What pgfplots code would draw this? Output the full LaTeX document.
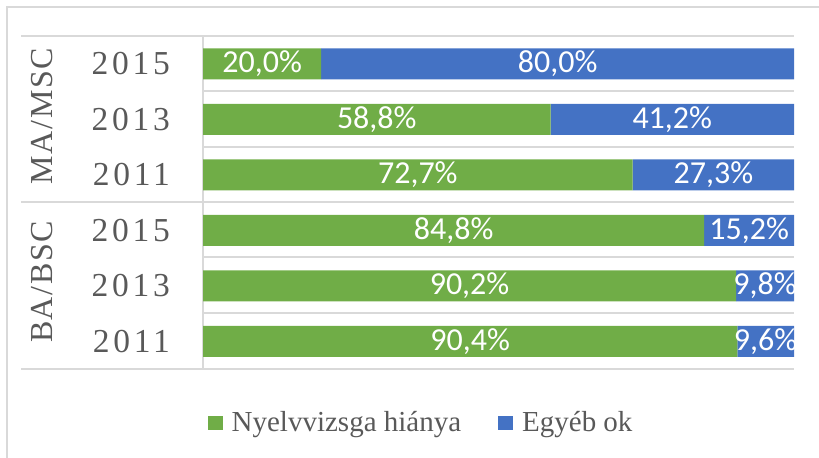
\documentclass[border=0pt]{standalone}
\usepackage{pgfplots}
\pgfplotsset{compat=1.18}
\usepackage{pgfplotstable}
\usepackage{fontspec}
\setmainfont{Liberation Serif}
\newfontfamily\carlito{Carlito}
\newfontfamily\spaced{Liberation Serif}[LetterSpace=11]
\newfontfamily\gspaced{Liberation Serif}[LetterSpace=5]
\definecolor{cgreen}{HTML}{70AD47}
\definecolor{cblue}{HTML}{4472C4}
\definecolor{cgrid}{HTML}{D9D9D9}
\definecolor{ctext}{HTML}{595959}
\pgfplotstableread{
y g b
5 20.0 80.0
4 58.8 41.2
3 72.7 27.3
2 84.8 15.2
1 90.2 9.8
0 90.4 9.6
}\datatable
\begin{document}
\begin{tikzpicture}
\useasboundingbox (0,0) rectangle (819bp,-458bp);
\draw[cgrid, line width=1.5bp] (7bp,-460bp) -- (7bp,-7bp) -- (821bp,-7bp);
% separators
\draw[cgrid, line width=1.5bp] (21bp,-36bp) -- (794bp,-36bp);
\draw[cgrid, line width=1.5bp] (21bp,-202bp) -- (794bp,-202bp);
\draw[cgrid, line width=1.5bp] (21bp,-369bp) -- (794bp,-369bp);
\foreach \yy in {91,147,257,313} {\draw[cgrid, line width=1.5bp] (203bp,-\yy bp) -- (794bp,-\yy bp);}
\draw[cgrid, line width=1.5bp] (203bp,-36bp) -- (203bp,-369bp);
\node[rotate=90, text=ctext, inner sep=0pt] at (42bp,-116bp) {\gspaced\fontsize{32bp}{38bp}\selectfont MA/MSC};
\node[rotate=90, text=ctext, inner sep=0pt] at (42bp,-282bp) {\gspaced\fontsize{32bp}{38bp}\selectfont BA/BSC};
\begin{axis}[
  at={(203bp,-369bp)}, anchor=south west,
  width=591bp, height=333bp, scale only axis,
  xbar stacked, bar width=31bp,
  xmin=0, xmax=100, ymin=-0.5, ymax=5.5,
  axis line style={draw=none},
  major tick style={draw=none},
  xtick=\empty,
  ytick={0,1,2,3,4,5},
  yticklabels={2011,2013,2015,2011,2013,2015},
  yticklabel style={text=ctext, inner sep=0pt, anchor=east, xshift=-33bp, font=\spaced\fontsize{33.5bp}{38bp}\selectfont},
  legend style={at={(0.369,-0.161)}, anchor=center, draw=none, fill=none,
    legend columns=2, font=\fontsize{29bp}{34bp}\selectfont, text=ctext,
    /tikz/every odd column/.append style={column sep=7bp},
    /tikz/every even column/.append style={column sep=35bp}},
  legend image code/.code={\fill[#1] (0bp,-7bp) rectangle (15bp,7bp);},
  legend cell align=left,
]
\addplot[fill=cgreen, draw=none] table[x=g, y=y] {\datatable};
\addlegendentry{Nyelvvizsga hiánya}
\addplot[fill=cblue, draw=none] table[x=b, y=y] {\datatable};
\addlegendentry{Egyéb ok}
\end{axis}
\begin{axis}[
  at={(203bp,-369bp)}, anchor=south west,
  width=591bp, height=333bp, scale only axis,
  xmin=0, xmax=100, ymin=-0.5, ymax=5.5,
  hide axis, clip=false,
  nodes near coords={\pgfmathprintnumber[fixed,fixed zerofill,precision=1,use comma,assume math mode=true]{\pgfplotspointmeta}\%},
  every node near coord/.append style={anchor=center, text=white, inner sep=0pt, font=\carlito\fontsize{32bp}{38bp}\selectfont},
  point meta=explicit,
]
\addplot[draw=none, mark=none] table[x expr=\thisrow{g}/2, y=y, meta=g] {\datatable};
\addplot[draw=none, mark=none] table[x expr=\thisrow{g}+\thisrow{b}/2, y=y, meta=b] {\datatable};
\end{axis}
\end{tikzpicture}
\end{document}
